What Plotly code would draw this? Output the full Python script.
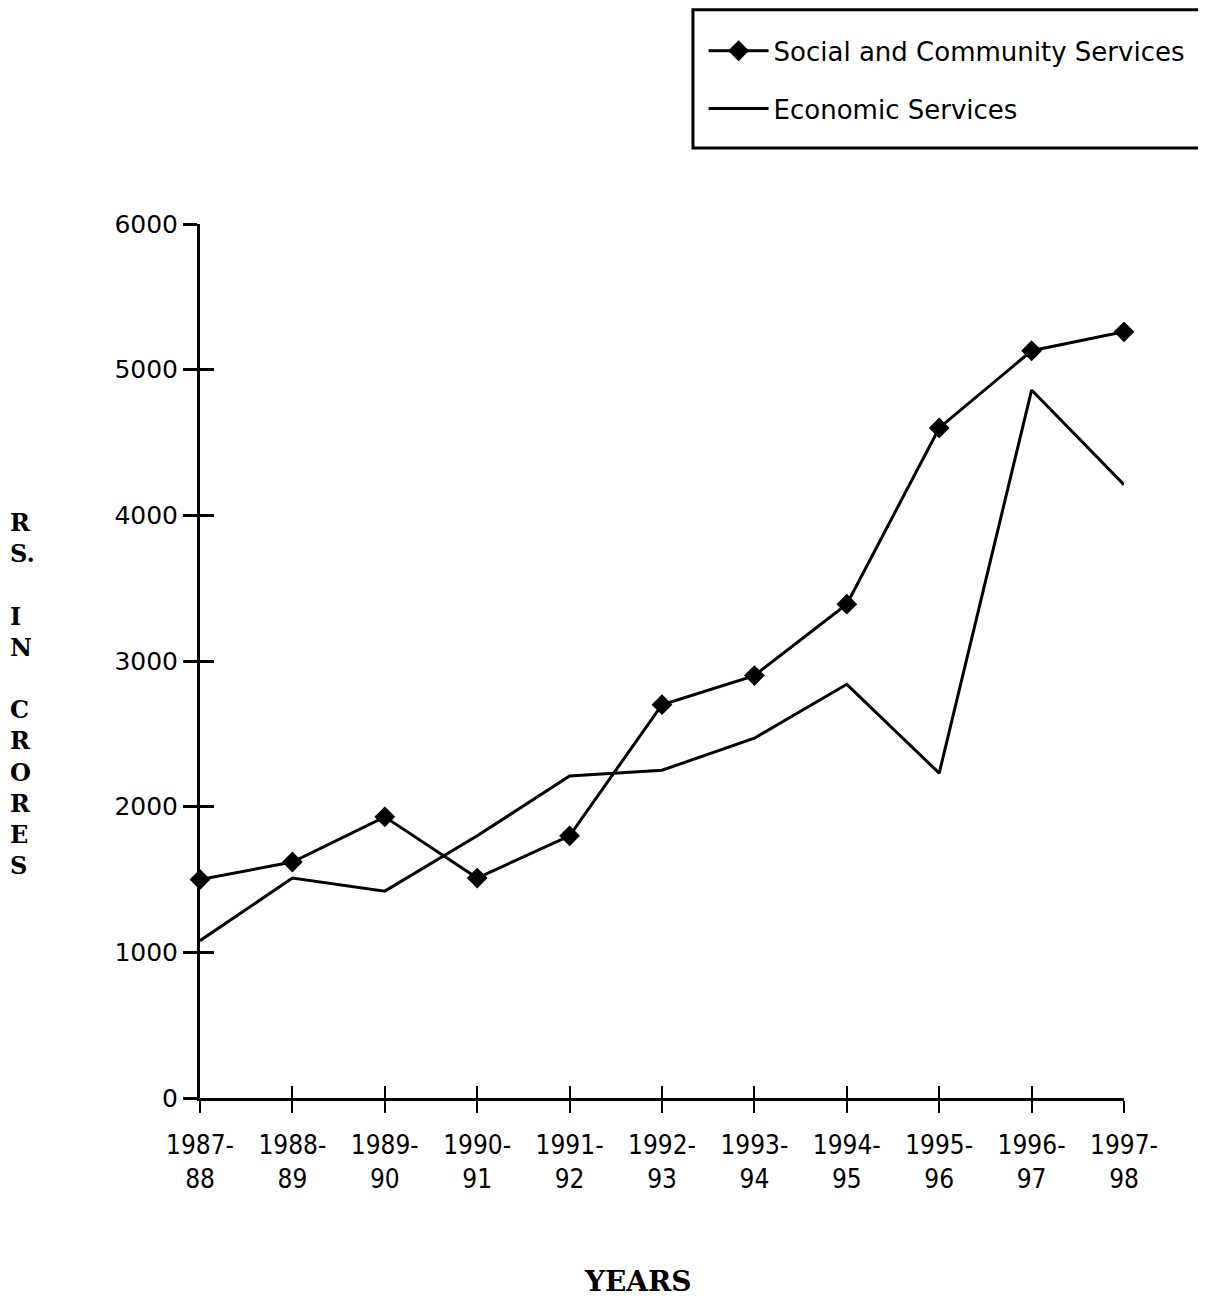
import plotly.graph_objects as go

years = ["1987-<br>88", "1988-<br>89", "1989-<br>90", "1990-<br>91", "1991-<br>92",
         "1992-<br>93", "1993-<br>94", "1994-<br>95", "1995-<br>96", "1996-<br>97", "1997-<br>98"]
social = [1500, 1620, 1930, 1510, 1800, 2700, 2900, 3390, 4600, 5130, 5260]
economic = [1080, 1510, 1420, 1800, 2210, 2250, 2470, 2840, 2230, 4860, 4210]
y_ticks = [0, 1000, 2000, 3000, 4000, 5000, 6000]

x_idx = list(range(len(years)))

fig = go.Figure()
fig.add_trace(go.Scatter(
    x=x_idx, y=social, name="Social and Community Services",
    mode="lines+markers", line=dict(color="black", width=3),
    marker=dict(symbol="diamond", size=16, color="black"),
    legendgroup="a", cliponaxis=False))
fig.add_trace(go.Scatter(
    x=x_idx, y=economic, name="Economic Services",
    mode="lines", line=dict(color="black", width=3),
    legendgroup="b", cliponaxis=False))
# invisible trace to carry the overlay axes (inner half of crossing ticks)
fig.add_trace(go.Scatter(x=x_idx, y=social, xaxis="x2", yaxis="y2",
                         mode="markers", marker=dict(opacity=0), showlegend=False,
                         hoverinfo="skip"))

fig.update_layout(
    width=1206, height=1296,
    paper_bgcolor="white", plot_bgcolor="white",
    margin=dict(l=192, r=90, t=216, b=206),
    xaxis=dict(range=[0, 10], tickvals=x_idx, ticktext=years,
               showgrid=False, zeroline=False, showline=True,
               linecolor="black", linewidth=3,
               ticks="outside", ticklen=12, tickwidth=2, tickcolor="black",
               ticklabelstandoff=10,
               tickfont=dict(family="DejaVu Sans Condensed", size=26, color="black")),
    yaxis=dict(range=[0, 6000], tickvals=y_ticks,
               showgrid=False, zeroline=False, showline=True,
               linecolor="black", linewidth=3,
               ticks="outside", ticklen=14, tickwidth=3, tickcolor="black",
               tickfont=dict(family="DejaVu Sans", size=25, color="black")),
    xaxis2=dict(range=[0, 10], overlaying="x", tickvals=x_idx, showticklabels=False,
                showgrid=False, zeroline=False, showline=False,
                ticks="inside", ticklen=12, tickwidth=2, tickcolor="black"),
    yaxis2=dict(range=[0, 6000], overlaying="y", tickvals=y_ticks, showticklabels=False,
                showgrid=False, zeroline=False, showline=False,
                ticks="inside", ticklen=14, tickwidth=3, tickcolor="black"),
    legend=dict(x=0.545, y=1.225, xanchor="left", yanchor="top",
                borderwidth=0, bgcolor="rgba(0,0,0,0)", itemwidth=60,
                font=dict(family="DejaVu Sans", size=26, color="black"),
                traceorder="grouped", tracegroupgap=21),
    showlegend=True,
    shapes=[dict(type="rect", xref="paper", yref="paper",
                 x0=0.5335, x1=1.10, y0=1.087, y1=1.245,
                 line=dict(color="black", width=3), fillcolor="rgba(0,0,0,0)")],
    annotations=[
        dict(text="R<br>S.<br><br>I<br>N<br><br>C<br>R<br>O<br>R<br>E<br>S",
             xref="paper", yref="paper", x=-0.1926, y=0.677, xanchor="center", yanchor="top",
             showarrow=False, align="left",
             font=dict(family="DejaVu Serif", size=24, color="black", weight="bold")),
        dict(text="YEARS", xref="paper", yref="paper", x=0.474, y=-0.2094,
             xanchor="center", yanchor="middle", showarrow=False,
             font=dict(family="DejaVu Serif", size=28, color="black", weight="bold")),
    ],
)

fig.write_html("out.html")
